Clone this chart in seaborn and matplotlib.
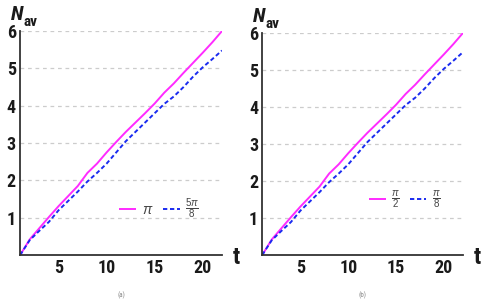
import numpy as np
import pandas as pd
import matplotlib
matplotlib.use("Agg")
import matplotlib.pyplot as plt
from matplotlib.ticker import MultipleLocator
import seaborn as sns

# time axis
t = [1, 2, 3, 4, 5, 6, 7, 8, 9, 10, 11, 12, 13, 14, 15, 16, 17, 18, 19, 20, 21, 22]

# panel (a)
n_a_pi = [0, 0.42, 0.72, 1.02, 1.31, 1.58, 1.85, 2.2, 2.45, 2.75, 3.03,
          3.3, 3.55, 3.8, 4.06, 4.35, 4.6, 4.88, 5.15, 5.42, 5.7, 6.0]
n_a_5pi8 = [0, 0.4, 0.65, 0.89, 1.2, 1.45, 1.7, 1.97, 2.2, 2.45, 2.75,
            3.05, 3.3, 3.55, 3.8, 4.05, 4.25, 4.5, 4.78, 5.03, 5.25, 5.48]

# panel (b)
n_b_pi2 = [0, 0.42, 0.72, 1.02, 1.31, 1.58, 1.85, 2.2, 2.45, 2.75, 3.03,
           3.3, 3.55, 3.8, 4.06, 4.35, 4.6, 4.88, 5.15, 5.42, 5.7, 6.0]
n_b_pi8 = [0, 0.4, 0.65, 0.89, 1.2, 1.45, 1.7, 1.97, 2.2, 2.45, 2.75,
           3.05, 3.3, 3.55, 3.8, 4.05, 4.25, 4.5, 4.78, 5.03, 5.25, 5.48]

labels_a = [r"$\pi$", r"$\frac{5\pi}{8}$"]
labels_b = [r"$\frac{\pi}{2}$", r"$\frac{\pi}{8}$"]
captions = ["(a)", "(b)"]

sns.set_style("white")
plt.rcParams["font.family"] = ["Roboto Condensed", "Liberation Sans Narrow",
                               "Liberation Sans", "DejaVu Sans"]
plt.rcParams["mathtext.fontset"] = "custom"
plt.rcParams["mathtext.rm"] = "Liberation Sans"
plt.rcParams["mathtext.it"] = "Liberation Sans:italic"

PINK = "#ff2bff"
BLUE = "#1a2bf0"

fig = plt.figure(figsize=(4.91, 2.99), dpi=100)
ax_a = fig.add_axes([0.041, 0.147, 0.411, 0.749])
ax_b = fig.add_axes([0.534, 0.147, 0.409, 0.743])


def draw_panel(ax, y1, y2, labels, caption, leg_pos):
    df = pd.DataFrame({"t": t + t, "N": y1 + y2,
                       "case": [labels[0]] * len(t) + [labels[1]] * len(t)})
    sns.lineplot(data=df, x="t", y="N", hue="case", style="case",
                 palette=[PINK, BLUE], dashes=[(1, 0), (2.2, 1.4)],
                 linewidth=1.4, ax=ax, legend=True)
    ax.set_xlim(1, 22)
    ax.set_ylim(0, 6)
    ax.set_xlabel("")
    ax.set_ylabel("")
    ax.set_xticks([5, 10, 15, 20])
    ax.set_yticks([1, 2, 3, 4, 5, 6])
    ax.xaxis.set_minor_locator(MultipleLocator(1))
    ax.yaxis.set_minor_locator(MultipleLocator(0.2))
    ax.tick_params(which="major", direction="in", length=4, width=1,
                   color="#333333", labelsize=13, pad=3)
    ax.tick_params(which="minor", direction="in", length=2.2, width=0.8,
                   color="#333333")
    for lab in ax.get_xticklabels() + ax.get_yticklabels():
        lab.set_fontweight("bold")
        lab.set_color("#1a1a1a")
    ax.yaxis.grid(True, linestyle=(0, (3, 3)), color="#cccccc", linewidth=0.9)
    ax.xaxis.grid(False)
    for side in ["top", "right"]:
        ax.spines[side].set_visible(False)
    for side in ["left", "bottom"]:
        ax.spines[side].set_color("#333333")
        ax.spines[side].set_linewidth(1.3)
    leg = ax.legend(loc="center", bbox_to_anchor=leg_pos, ncol=2, frameon=False,
                    handlelength=1.2, handletextpad=0.4, columnspacing=0.7,
                    fontsize=10)
    for txt in leg.get_texts():
        txt.set_color("#444444")
    # axis names
    ax.text(-0.045, 1.075, "N", transform=ax.transAxes, fontsize=15,
            fontstyle="italic", fontweight="bold", ha="left", va="center",
            color="#1a1a1a")
    ax.text(0.018, 1.04, "av", transform=ax.transAxes, fontsize=11,
            fontweight="bold", ha="left", va="center", color="#1a1a1a")
    ax.text(1.07, -0.01, "t", transform=ax.transAxes, fontsize=17,
            fontweight="bold", ha="center", va="center", color="#1a1a1a")
    ax.text(0.5, -0.18, caption, transform=ax.transAxes, fontsize=5,
            ha="center", va="center", color="#888888")


draw_panel(ax_a, n_a_pi, n_a_5pi8, labels_a, captions[0], (0.69, 0.205))
draw_panel(ax_b, n_b_pi2, n_b_pi8, labels_b, captions[1], (0.71, 0.25))

fig.savefig("out.png", dpi=100)
